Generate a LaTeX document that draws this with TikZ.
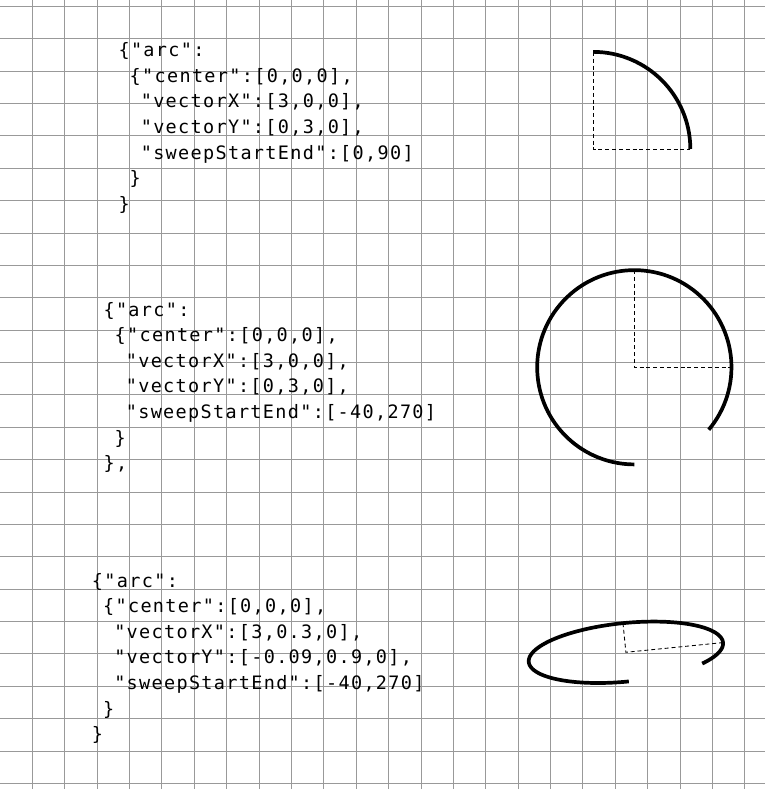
\documentclass[tikz,border=0pt]{standalone}
\usepackage{fontspec}
\newfontfamily\jsonfont{DejaVu Sans Mono}[LetterSpace=7.2]
\newcommand{\ind}{\hphantom{0}}
\begin{document}
\begin{tikzpicture}[x=0.8cm, y=0.8cm,
        gridline/.style={black!40, line width=0.6pt},
        arcline/.style={line width=2.6pt},
        guide/.style={line width=0.6pt, dash pattern=on 2.8pt off 2pt},
        json/.style={anchor=base west, align=left, inner sep=0pt, font=\jsonfont\fontsize{13}{18}\selectfont}]
        \useasboundingbox[fill=white] (0,0) rectangle (23.626,24.367);
        \foreach \i in {1,...,23} \draw[gridline] (\i,0) -- (\i,24.367);
        \foreach \j in {0,...,24} \draw[gridline] (0,\j+0.172) -- (23.626,\j+0.172);

        \node[json] (json1) at (3.653, 17.872) {\{"arc":\\ \ind\{"center":[0,0,0],\\ \ind\ind"vectorX":[3,0,0],\\ \ind\ind"vectorY":[0,3,0],\\ \ind\ind"sweepStartEnd":[0,90]\\ \ind\}\\ \}};
        \node[json] (json2) at (3.190, 9.861) {\{"arc":\\ \ind\{"center":[0,0,0],\\ \ind\ind"vectorX":[3,0,0],\\ \ind\ind"vectorY":[0,3,0],\\ \ind\ind"sweepStartEnd":[-40,270]\\ \ind\}\\ \},};
        \node[json] (json3) at (2.832, 1.492) {\{"arc":\\ \ind\{"center":[0,0,0],\\ \ind\ind"vectorX":[3,0.3,0],\\ \ind\ind"vectorY":[-0.09,0.9,0],\\ \ind\ind"sweepStartEnd":[-40,270]\\ \ind\}\\ \}};

        \coordinate (c1) at (18.32, 19.765);
        \path (c1) ++(3,0) coordinate (c1x) (c1) ++(0,3) coordinate (c1y);
        \draw[guide] (c1y) -- (c1) -- (c1x);
        \draw[arcline] (c1x) arc (0:90:3);

        \coordinate (c2) at (19.59, 13.024);
        \path (c2) ++(3,0) coordinate (c2x) (c2) ++(0,3) coordinate (c2y);
        \draw[guide] (c2y) -- (c2) -- (c2x);
        \draw[arcline] (c2) ++(-40:3) arc (-40:270:3);

        \begin{scope}[shift={(19.33, 4.222)}, cm={3,0.3,-0.09,0.9,(0,0)}]
            \coordinate (c3) at (0,0);
            \coordinate (c3x) at (1,0);
            \coordinate (c3y) at (0,1);
            \draw[guide] (c3y) -- (c3) -- (c3x);
            \draw[arcline] plot[domain=-40:270, samples=120, smooth] ({cos(\x)}, {sin(\x)});
        \end{scope}
\end{tikzpicture}
\end{document}
